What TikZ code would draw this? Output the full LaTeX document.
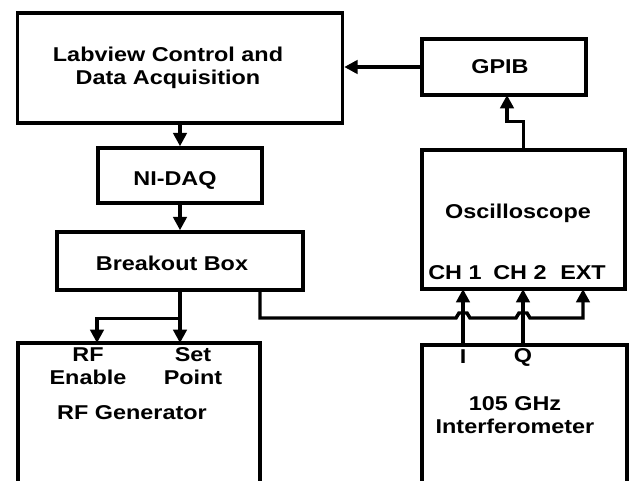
\documentclass[tikz,border=0pt]{standalone}
\usepackage{fontspec}
\setmainfont[FakeStretch=1.17]{Liberation Sans}
\usetikzlibrary{arrows.meta}

\tikzset{every picture/.style={line width=2.6pt}}
\tikzset{
	blk/.style 2 args={draw, line width=2.6pt, inner sep=0pt, minimum width={#1*0.75pt}, minimum height={#2*0.75pt}},
	txt/.style={font=\bfseries\fontsize{15}{17}\selectfont, align=center, inner sep=0pt},
	wire/.style={line width=2.6pt, -{Triangle[length=10pt,width=10pt]}},
}

\begin{document}
\begin{tikzpicture}[x=0.75pt,y=0.75pt,yscale=-1,xscale=1]
	\useasboundingbox (0,0) rectangle (632,481);
	\clip (0,0) rectangle (632,481);

	%Blocks
	\node [blk={325}{110}] (lab) at (180,68) {};
	\node [blk={164}{56}] (gpib) at (504,67) {};
	\node [blk={164}{55}] (ndaq) at (180,175.5) {};
	\node [blk={246}{58}] (brk) at (180,261) {};
	\node [blk={203}{139}] (osc) at (523.5,219.5) {};
	\node [blk={242}{180}] (rf) at (139,433) {};
	\node [blk={205}{180}] (ifm) at (524.5,435) {};

	% Text Node
	\node [txt] (labtxt) at (168,68) {Labview Control and\\Data Acquisition};
	\node [txt] (gpibtxt) at (500,67) {GPIB};
	\node [txt] (ndaqtxt) at (175,180) {NI-DAQ};
	\node [txt] (brktxt) at (172,263) {Breakout Box};
	\node [txt] (osctxt) at (518,213) {Oscilloscope};
	\node [txt] (ch1) at (455,273) {CH 1};
	\node [txt] (ch2) at (520,273) {CH 2};
	\node [txt] (ext) at (583,273) {EXT};
	\node [txt] (rfen) at (88,366) {RF\\Enable};
	\node [txt] (setp) at (193,366) {Set\\Point};
	\node [txt] (rftxt) at (132,413) {RF Generator};
	\node [txt] (itxt) at (463,357) {I};
	\node [txt] (qtxt) at (523,357) {Q};
	\node [txt] (ifmtxt) at (515,415) {105 GHz\\Interferometer};

	%Ports
	\coordinate (rfin) at (97,343);
	\coordinate (spin) at (180,343);
	\coordinate (trg) at (260,290);
	\coordinate (ch1in) at (463,289);
	\coordinate (ch2in) at (523,289);
	\coordinate (extin) at (583,289);
	\coordinate (iout) at (463,345);
	\coordinate (qout) at (523,345);
	\coordinate (gin) at (507,95);

	%Connectors
	\draw [wire] (gpib.west) -- (gpib.west -| lab.east);
	\draw [wire] (osc.north) -- ++(0,-27) -| (gin);
	\draw [wire] (lab.south) -- (ndaq.north);
	\draw [wire] (ndaq.south) -- (brk.north);
	\draw [wire] (brk.south) -- (spin);
	\draw [wire] (brk.south) -- ++(0,27) -| (rfin);
	\draw [wire] (iout) -- (ch1in);
	\draw [wire] (qout) -- (ch2in);
	\draw [wire] (trg) |- (456,318) -- (459,313) -- (467,313) -- (470,318)
		-- (516,318) -- (519,313) -- (527,313) -- (530,318) -| (extin);

\end{tikzpicture}
\end{document}
